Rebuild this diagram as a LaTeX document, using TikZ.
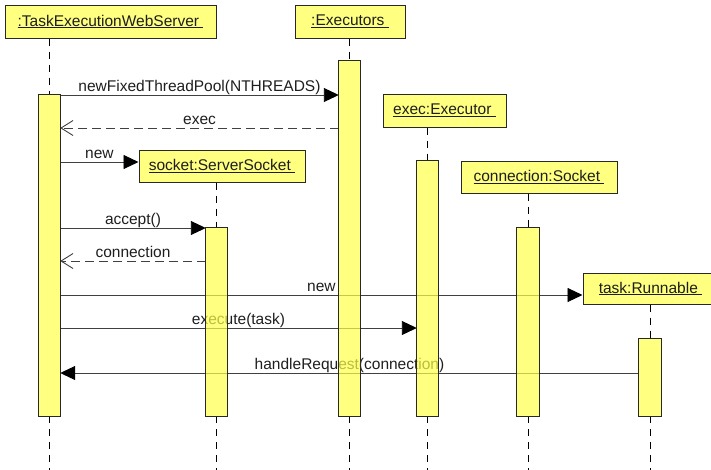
\documentclass[tikz,border=0pt]{standalone}
\usepackage{fontspec}
\setmainfont{Liberation Sans}
\usetikzlibrary{arrows.meta}
\definecolor{headfill}{RGB}{255,255,128}
\definecolor{barfill}{RGB}{255,255,74}
\definecolor{edge}{RGB}{40,40,40}
\definecolor{ink}{RGB}{30,30,30}
\newcommand\objname[1]{\underline{#1\ }}
\tikzset{
  every node/.style={font=\fontsize{15.5}{18}\selectfont, text=ink},
  head/.style={draw=edge, fill=headfill, line width=1pt, inner sep=0pt},
  life/.style={draw=black, line width=0.9pt, dash pattern=on 7pt off 6pt},
  call/.style={draw=black!75, line width=0.9pt, -{Triangle[length=15pt,width=14pt,color=black]}},
  reply/.style={draw=black!75, line width=0.9pt, dash pattern=on 9pt off 5pt, -{Straight Barb[length=12pt,width=15pt,line width=0.9pt]}},
  lbl/.style={anchor=south, yshift=3.5pt, inner sep=0pt, text depth=0pt}
}
\begin{document}
\begin{tikzpicture}[x=1pt,y=-1pt]
\useasboundingbox (0,0) rectangle (711,469);
\clip (0,0) rectangle (711,469);

% object heads
\node[head, minimum width=211pt, minimum height=33pt] (wsH)   at (110.5,21.5) {\objname{:TaskExecutionWebServer}};
\node[head, minimum width=110pt, minimum height=33pt] (exH)   at (350,21.5)   {\objname{:Executors}};
\node[head, minimum width=123pt, minimum height=33pt] (exeH)  at (444.5,110.5) {\objname{exec:Executor}};
\node[head, minimum width=166pt, minimum height=32pt] (sockH) at (222,166)    {\objname{socket:ServerSocket}};
\node[head, minimum width=156pt, minimum height=32pt] (connH) at (539,177)    {\objname{connection:Socket}};
\node[head, minimum width=135pt, minimum height=31pt] (taskH) at (650.5,288.5) {\objname{task:Runnable}};

% activation bars (geometry only, painted later on top)
\path
  (49.5,255.5) node[minimum width=21pt, minimum height=321pt, inner sep=0pt] (wsB) {}
  (349.5,238.5) node[minimum width=21pt, minimum height=355pt, inner sep=0pt] (exB) {}
  (427.5,288.5) node[minimum width=21pt, minimum height=255pt, inner sep=0pt] (exeB) {}
  (216.5,322) node[minimum width=21pt, minimum height=188pt, inner sep=0pt] (sockB) {}
  (528,322) node[minimum width=22pt, minimum height=188pt, inner sep=0pt] (connB) {}
  (650,377.5) node[minimum width=22pt, minimum height=77pt, inner sep=0pt] (taskB) {};

\coordinate (bottom) at (0,470);

% lifelines
\foreach \h/\b in {wsH/wsB, exH/exB, exeH/exeB, sockH/sockB, connH/connB, taskH/taskB}{
  \draw[life] (\h.south -| \b.north) -- (\b.north);
  \draw[life] (\b.south) -- (\b.south |- bottom);
}

% message levels
\coordinate (m1) at (0,95);
\coordinate (m2) at (0,128);
\coordinate (m3) at (0,162);
\coordinate (m4) at (0,228);
\coordinate (m5) at (0,261);
\coordinate (m6) at (0,295);
\coordinate (m7) at (0,328);
\coordinate (m8) at (0,373);

% messages
\draw[call]  (wsB.east |- m1) -- node[lbl] {newFixedThreadPool(NTHREADS)} (exB.west |- m1);
\draw[reply] (exB.west |- m2) -- node[lbl] {exec} (wsB.east |- m2);
\draw[call]  (wsB.east |- m3) -- node[lbl] {new} (sockH.west |- m3);
\draw[call]  (wsB.east |- m4) -- node[lbl] {accept()} (sockB.west |- m4);
\draw[reply] (sockB.west |- m5) -- node[lbl] {connection} (wsB.east |- m5);
\draw[call]  (wsB.east |- m6) -- node[lbl] {new} (taskH.west |- m6);
\draw[call]  (wsB.east |- m7) -- node[lbl] {execute(task)} (exeB.west |- m7);
\draw[call]  (taskB.west |- m8) -- node[lbl] {handleRequest(connection)} (wsB.east |- m8);

% activation bars painted over the messages
\foreach \b in {wsB, exB, exeB, sockB, connB, taskB}{
  \fill[barfill, fill opacity=0.7] (\b.south west) rectangle (\b.north east);
  \draw[edge, line width=1pt] (\b.south west) rectangle (\b.north east);
}
\end{tikzpicture}
\end{document}
